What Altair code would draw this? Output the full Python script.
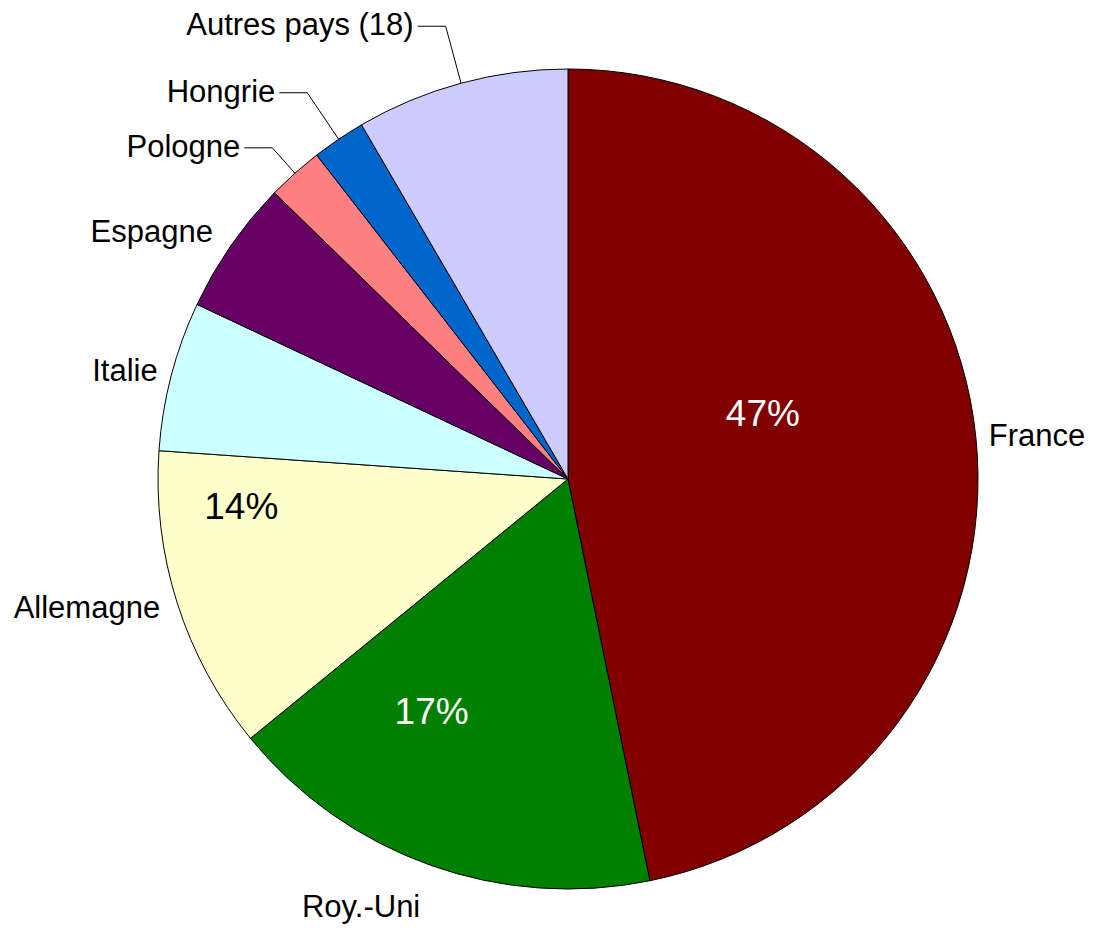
import math
import altair as alt
import pandas as pd

# ---- data ----
countries = ["France", "Roy.-Uni", "Allemagne", "Italie", "Espagne",
             "Pologne", "Hongrie", "Autres pays (18)"]
shares = [46.8, 17.3, 12.0, 5.9, 5.3, 2.2, 2.1, 8.4]
pct_text = ["47%", "17%", "14%", "", "", "", "", ""]
colors = ["#800000", "#008000", "#FFFFCC", "#CCFFFF", "#660066",
          "#FF8080", "#0066CC", "#CCCCFF"]
pct_colors = ["white", "white", "black", "black", "black", "black", "black", "black"]

# ---- layout / style ----
R = 410                      # pie radius (px)
W, H = 1020, 880             # view size; pie is centred in the view
PAD = {"left": 50, "top": 31, "right": 7, "bottom": 7}
NAME_SIZE, PCT_SIZE = 31, 37
FONT = "Liberation Sans"
# radial gap of outside labels, and their anchoring style
name_gap = {"France": 13, "Roy.-Uni": 30, "Allemagne": 18, "Italie": 14, "Espagne": 22}
name_style = {"France": "left", "Roy.-Uni": "top"}     # others: right-aligned, middle
leader_gap = {"Pologne": 34, "Hongrie": 56, "Autres pays (18)": 59}
LEADER_LEN, TEXT_GAP = 28, 4
# placement of the inside percentage labels: (fraction along slice, fraction of radius)
pct_place = {"France": (0.427, 0.50), "Roy.-Uni": (0.671, 0.66), "Allemagne": (0.79, 0.80)}

# ---- derived geometry from the shares ----
total = sum(shares)
starts, ends = [], []
acc = 0.0
for s in shares:
    starts.append(acc / total * 2 * math.pi)
    acc += s
    ends.append(acc / total * 2 * math.pi)


def polar(a, r):
    return r * math.sin(a), -r * math.cos(a)


pie_df = pd.DataFrame({"country": countries, "share": shares, "idx": list(range(len(countries)))})

names, rules, pcts = [], [], []
for i, c in enumerate(countries):
    a0, a1 = starts[i], ends[i]
    mid = (a0 + a1) / 2
    if c in name_gap:
        x, y = polar(mid, R + name_gap[c])
        names.append({"label": c, "x": x, "y": y, "style": name_style.get(c, "right")})
    if c in leader_gap:
        x0, y0 = polar(mid, R)
        x1, y1 = polar(mid, R + leader_gap[c])
        x2 = x1 - LEADER_LEN
        rules.append({"x": x0, "y": y0, "x2": x1, "y2": y1})
        rules.append({"x": x1, "y": y1, "x2": x2, "y2": y1})
        names.append({"label": c, "x": x2 - TEXT_GAP, "y": y1, "style": "right"})
    if pct_text[i]:
        f, rf = pct_place[c]
        x, y = polar(a0 + f * (a1 - a0), rf * R)
        pcts.append({"label": pct_text[i], "x": x, "y": y, "tc": pct_colors[i]})

names_df = pd.DataFrame(names)
rules_df = pd.DataFrame(rules)
pcts_df = pd.DataFrame(pcts)

xs = alt.Scale(domain=[-W / 2, W / 2], nice=False, zero=False)
ys = alt.Scale(domain=[-H / 2, H / 2], nice=False, zero=False, reverse=True)

pie = alt.Chart(pie_df).mark_arc(outerRadius=R, stroke="black", strokeWidth=1).encode(
    theta=alt.Theta("share:Q", stack=True),
    order=alt.Order("idx:Q"),
    color=alt.Color("country:N", scale=alt.Scale(domain=countries, range=colors), legend=None),
)

X = alt.X("x:Q", scale=xs, axis=None)
Y = alt.Y("y:Q", scale=ys, axis=None)

leaders = alt.Chart(rules_df).mark_rule(color="black", strokeWidth=1).encode(
    x=X, y=Y, x2="x2:Q", y2="y2:Q")

base_names = alt.Chart(names_df)
names_right = base_names.transform_filter(alt.datum.style == "right").mark_text(
    align="right", baseline="middle", font=FONT, fontSize=NAME_SIZE, color="black"
).encode(x=X, y=Y, text="label:N")
names_left = base_names.transform_filter(alt.datum.style == "left").mark_text(
    align="left", baseline="middle", font=FONT, fontSize=NAME_SIZE, color="black"
).encode(x=X, y=Y, text="label:N")
names_top = base_names.transform_filter(alt.datum.style == "top").mark_text(
    align="right", baseline="top", font=FONT, fontSize=NAME_SIZE, color="black"
).encode(x=X, y=Y, text="label:N")

pct_layer = alt.Chart(pcts_df).mark_text(
    align="center", baseline="middle", font=FONT, fontSize=PCT_SIZE
).encode(x=X, y=Y, text="label:N", color=alt.Color("tc:N", scale=None))

chart = alt.layer(pie, leaders, names_right, names_left, names_top, pct_layer).properties(
    width=W, height=H, padding=PAD, autosize=alt.AutoSizeParams(type="none"),
    background="white",
).configure_view(stroke=None)

chart.save("out.html", embed_options={"renderer": "svg", "actions": False})
